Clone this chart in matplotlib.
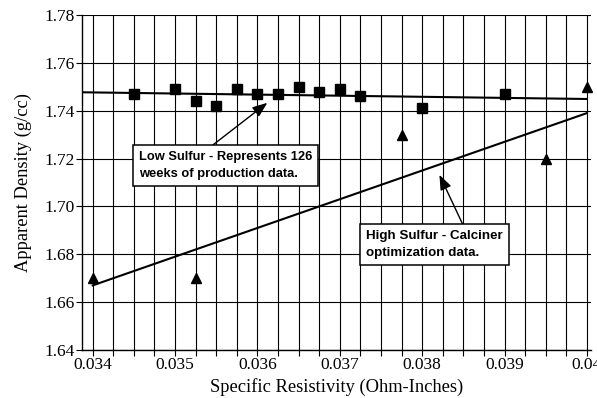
"""
Apparent density vs specific resistivity, low and high sulfur coke.
"""

import matplotlib
matplotlib.use("Agg")
import matplotlib.pyplot as plt
import numpy as np
from matplotlib.ticker import MultipleLocator, FixedLocator

# low sulfur production data (squares)
low_x = [0.0345, 0.0350, 0.03525, 0.0355, 0.03575, 0.0360, 0.03625,
         0.0365, 0.03675, 0.0370, 0.03725, 0.0380, 0.0390]
low_y = [1.747, 1.749, 1.744, 1.742, 1.749, 1.747, 1.747,
         1.750, 1.748, 1.749, 1.746, 1.741, 1.747]

# high sulfur calciner optimization data (triangles)
high_x = [0.0340, 0.03525, 0.03775, 0.0395, 0.0400]
high_y = [1.670, 1.670, 1.730, 1.720, 1.750]

# trend lines (end points)
low_fit_x = [0.03388, 0.0400]
low_fit_y = [1.7477, 1.7449]
high_fit_x = [0.0340, 0.0400]
high_fit_y = [1.667, 1.739]

x_ticks = [0.034, 0.035, 0.036, 0.037, 0.038, 0.039, 0.040]
x_tick_labels = ["0.034", "0.035", "0.036", "0.037", "0.038", "0.039", "0.04"]
y_ticks = [1.64, 1.66, 1.68, 1.70, 1.72, 1.74, 1.76, 1.78]

serif = ["Liberation Serif", "DejaVu Serif"]
sans = ["Liberation Sans", "DejaVu Sans"]

fig = plt.figure(figsize=(5.97, 3.98), dpi=100)
ax = fig.add_axes([82 / 597, 1 - 350 / 398, 509 / 597, 335 / 398])

ax.set_xlim(0.03387, 0.04005)
ax.set_ylim(1.64, 1.78)

# grid: every 0.00025 vertically, every 0.02 horizontally
ax.xaxis.set_major_locator(FixedLocator(x_ticks))
ax.xaxis.set_minor_locator(MultipleLocator(0.00025))
ax.yaxis.set_major_locator(FixedLocator(y_ticks))
ax.grid(which="both", axis="x", color="black", linewidth=0.8)
ax.grid(which="major", axis="y", color="black", linewidth=0.8)
ax.set_axisbelow(True)

ax.set_xticklabels(x_tick_labels, fontsize=12.5, family=serif)
ax.set_yticklabels([f"{v:.2f}" for v in y_ticks], fontsize=12.5, family=serif)
ax.tick_params(which="both", direction="out", length=4, width=0.8, pad=1)
ax.tick_params(axis="x", which="minor", length=4)

for s in ax.spines.values():
    s.set_linewidth(1.0)
ax.spines["top"].set_visible(False)
ax.spines["right"].set_visible(False)

ax.plot(low_fit_x, low_fit_y, color="black", linewidth=1.5)
ax.plot(high_fit_x, high_fit_y, color="black", linewidth=1.5)
ax.plot(low_x, low_y, linestyle="none", marker="s", markersize=6.5,
        color="black", clip_on=False)
ax.plot(high_x, high_y, linestyle="none", marker="^", markersize=6.5,
        color="black", clip_on=False)

ax.set_xlabel("Specific Resistivity (Ohm-Inches)", fontsize=13.3, family=serif,
              labelpad=4)
ax.set_ylabel("Apparent Density (g/cc)", fontsize=13.3, family=serif,
              labelpad=9)

box = dict(boxstyle="square,pad=0.45", facecolor="white", edgecolor="black",
           linewidth=1.1)
arrow = dict(arrowstyle="-|>,head_length=0.9,head_width=0.35",
             color="black", linewidth=1.0, shrinkA=0, shrinkB=0)

ax.annotate("", xy=(0.03612, 1.7433), xytext=(0.03546, 1.7257),
            arrowprops=arrow)
ax.text(0.03456, 1.7232, "Low Sulfur - Represents 126\nweeks of production data.",
        fontsize=9.3, family=sans, weight="bold", ha="left", va="top",
        bbox=box, linespacing=1.6)

ax.annotate("", xy=(0.03821, 1.7132), xytext=(0.03849, 1.6927),
            arrowprops=arrow)
ax.text(0.03732, 1.6902, "High Sulfur - Calciner\noptimization data.",
        fontsize=9.6, family=sans, weight="bold", ha="left", va="top",
        bbox=box, linespacing=1.6)

fig.savefig("out.png", dpi=100)
